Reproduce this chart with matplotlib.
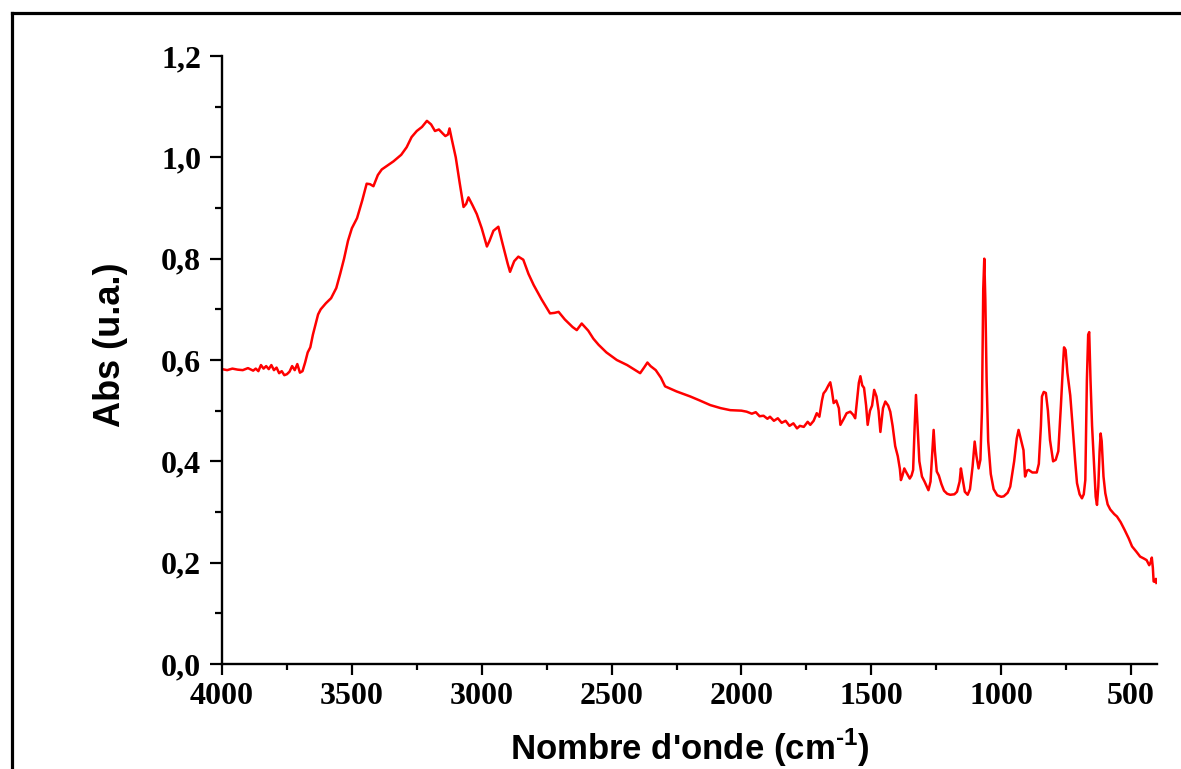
import matplotlib
matplotlib.use("Agg")
import matplotlib.pyplot as plt
from matplotlib.lines import Line2D

# FTIR spectrum: wavenumber (cm-1) and absorbance (a.u.)
wavenumber = [
    4000, 3980, 3960, 3940, 3920, 3900, 3880, 3870, 3860, 3850, 3840, 3830, 3820,
    3810, 3800, 3790, 3780, 3770, 3760, 3750, 3740, 3730, 3720, 3710, 3700, 3690,
    3680, 3670, 3660, 3650, 3640, 3630, 3620, 3600, 3580, 3560, 3545, 3530, 3515,
    3500, 3480, 3460, 3443, 3430, 3417, 3400, 3385, 3360, 3340, 3310, 3289, 3270,
    3250, 3230, 3211, 3195, 3180, 3165, 3150, 3140, 3130, 3124, 3115, 3100, 3085,
    3070, 3060, 3051, 3035, 3019, 3000, 2980, 2970, 2955, 2936, 2920, 2900, 2891,
    2875, 2859, 2840, 2820, 2800, 2770, 2737, 2720, 2704, 2680, 2650, 2634, 2615,
    2590, 2570, 2550, 2520, 2480, 2440, 2400, 2390, 2375, 2362, 2350, 2330, 2310,
    2294, 2250, 2197, 2160, 2120, 2080, 2043, 2000, 1980, 1960, 1945, 1930, 1915,
    1900, 1890, 1875, 1860, 1845, 1830, 1815, 1800, 1786, 1775, 1760, 1745, 1735,
    1722, 1710, 1700, 1690, 1684, 1675, 1665, 1658, 1652, 1645, 1635, 1625, 1619,
    1605, 1595, 1581, 1570, 1562, 1555, 1548, 1542, 1535, 1528, 1520, 1514, 1505,
    1497, 1489, 1480, 1472, 1465, 1455, 1446, 1435, 1427, 1418, 1408, 1398, 1390,
    1386, 1380, 1373, 1365, 1352, 1345, 1339, 1333, 1328, 1323, 1315, 1305, 1295,
    1280, 1272, 1265, 1260, 1255, 1248, 1240, 1230, 1220, 1208, 1196, 1180, 1170,
    1160, 1155, 1150, 1140, 1129, 1120, 1110, 1102, 1095, 1087, 1080, 1074, 1069,
    1065, 1061, 1056, 1050, 1040, 1029, 1015, 1000, 990, 975, 965, 950, 940, 933,
    925, 914, 908, 900, 894, 880, 863, 855, 847, 843, 836, 828, 820, 812, 800, 790,
    780, 770, 762, 758, 752, 745, 734, 725, 715, 708, 698, 689, 682, 676, 670, 665,
    661, 656, 650, 643, 636, 631, 626, 621, 617, 613, 606, 599, 590, 580, 565, 554,
    540, 525, 509, 496, 480, 465, 450, 440, 430, 425, 420, 416, 413, 408, 404, 402,
]
absorbance = [
    0.582, 0.580, 0.583, 0.581, 0.580, 0.584, 0.579, 0.583, 0.578, 0.590, 0.583, 0.588, 0.582,
    0.590, 0.580, 0.585, 0.574, 0.578, 0.570, 0.572, 0.577, 0.588, 0.580, 0.592, 0.575, 0.578,
    0.595, 0.615, 0.625, 0.650, 0.670, 0.690, 0.700, 0.712, 0.722, 0.742, 0.770, 0.800, 0.835,
    0.860, 0.880, 0.915, 0.948, 0.947, 0.943, 0.965, 0.976, 0.985, 0.992, 1.005, 1.020, 1.040,
    1.052, 1.060, 1.072, 1.065, 1.052, 1.055, 1.047, 1.042, 1.045, 1.057, 1.035, 1.000, 0.950,
    0.902, 0.908, 0.921, 0.905, 0.888, 0.860, 0.824, 0.835, 0.855, 0.863, 0.830, 0.790, 0.774,
    0.795, 0.804, 0.798, 0.770, 0.748, 0.720, 0.692, 0.693, 0.695, 0.680, 0.665, 0.659, 0.672,
    0.658, 0.642, 0.630, 0.615, 0.600, 0.590, 0.577, 0.574, 0.585, 0.595, 0.588, 0.580, 0.565,
    0.548, 0.538, 0.528, 0.520, 0.511, 0.505, 0.501, 0.500, 0.498, 0.494, 0.497, 0.489, 0.490,
    0.484, 0.488, 0.480, 0.485, 0.476, 0.480, 0.470, 0.475, 0.465, 0.470, 0.468, 0.478, 0.472,
    0.480, 0.495, 0.488, 0.520, 0.534, 0.540, 0.550, 0.556, 0.540, 0.515, 0.520, 0.505, 0.472,
    0.485, 0.495, 0.498, 0.492, 0.485, 0.520, 0.555, 0.568, 0.550, 0.545, 0.510, 0.472, 0.500,
    0.510, 0.541, 0.528, 0.500, 0.458, 0.505, 0.518, 0.510, 0.498, 0.470, 0.430, 0.410, 0.385,
    0.363, 0.372, 0.386, 0.378, 0.366, 0.372, 0.383, 0.470, 0.531, 0.480, 0.400, 0.370, 0.360,
    0.343, 0.360, 0.420, 0.462, 0.420, 0.380, 0.372, 0.355, 0.342, 0.336, 0.334, 0.335, 0.340,
    0.360, 0.386, 0.370, 0.340, 0.334, 0.345, 0.390, 0.439, 0.410, 0.386, 0.403, 0.500, 0.740,
    0.800, 0.720, 0.560, 0.440, 0.375, 0.345, 0.333, 0.330, 0.331, 0.338, 0.350, 0.400, 0.445, 0.462,
    0.445, 0.422, 0.370, 0.382, 0.383, 0.378, 0.378, 0.395, 0.470, 0.528, 0.537, 0.535, 0.500, 0.442, 0.400, 0.403,
    0.420, 0.510, 0.590, 0.625, 0.620, 0.575, 0.530, 0.470, 0.400, 0.357, 0.335, 0.327, 0.335, 0.363, 0.560, 0.650,
    0.655, 0.560, 0.470, 0.400, 0.330, 0.314, 0.350, 0.420, 0.455, 0.440, 0.370, 0.337, 0.315, 0.305, 0.296, 0.291,
    0.280, 0.265, 0.248, 0.232, 0.222, 0.212, 0.208, 0.205, 0.195, 0.200, 0.210, 0.190, 0.163, 0.162, 0.168, 0.160,
]

x_ticks = [4000, 3500, 3000, 2500, 2000, 1500, 1000, 500]
x_tick_labels = ["4000", "3500", "3000", "2500", "2000", "1500", "1000", "500"]
y_ticks = [0.0, 0.2, 0.4, 0.6, 0.8, 1.0, 1.2]
y_tick_labels = ["0,0", "0,2", "0,4", "0,6", "0,8", "1,0", "1,2"]

plt.rcParams["mathtext.fontset"] = "custom"
plt.rcParams["mathtext.rm"] = "Liberation Sans:bold"
plt.rcParams["mathtext.bf"] = "Liberation Sans:bold"

fig = plt.figure(figsize=(11.81, 7.69), dpi=100)
ax = fig.add_axes([222 / 1181, 1 - 664 / 769, (1157 - 222) / 1181, (664 - 56) / 769])

ax.plot(wavenumber, absorbance, color="#ff0000", lw=1.8)

ax.set_xlim(4000, 400)
ax.set_ylim(0, 1.2)

ax.set_xticks(x_ticks)
ax.set_xticklabels(x_tick_labels)
ax.set_yticks(y_ticks)
ax.set_yticklabels(y_tick_labels)
ax.set_xticks(list(range(3750, 399, -500)), minor=True)
ax.set_yticks([0.1, 0.3, 0.5, 0.7, 0.9, 1.1], minor=True)

for lab in ax.get_xticklabels() + ax.get_yticklabels():
    lab.set_fontfamily("Liberation Serif")
    lab.set_fontweight("bold")
    lab.set_fontsize(23)

ax.tick_params(axis="x", which="major", direction="out", length=8, width=1.6, pad=5)
ax.tick_params(axis="x", which="minor", direction="out", length=4.5, width=1.6)
ax.tick_params(axis="y", which="major", direction="out", length=9, width=1.6, pad=6)
ax.tick_params(axis="y", which="minor", direction="out", length=5, width=1.6)

for side in ("top", "right"):
    ax.spines[side].set_visible(False)
for side in ("left", "bottom"):
    ax.spines[side].set_linewidth(1.7)

ax.set_xlabel(r"Nombre d'onde (cm$^{\text{-1}}$)", fontfamily="Liberation Sans",
              fontweight="bold", fontsize=25)
ax.xaxis.set_label_coords(0.5, (664 - 760) / 608)
ax.xaxis.label.set_verticalalignment("baseline")

ax.set_ylabel("Abs (u.a.)", fontfamily="Liberation Sans", fontweight="bold", fontsize=26)
ax.yaxis.set_label_coords((128 - 222) / 935, (664 - 345) / 608)

# frame around the figure
fig.add_artist(Line2D([12 / 1181, 12 / 1181], [0, 1 - 12.5 / 769], transform=fig.transFigure,
                      color="black", lw=2.3, solid_capstyle="projecting"))
fig.add_artist(Line2D([12 / 1181, 1], [1 - 12.5 / 769, 1 - 12.5 / 769], transform=fig.transFigure,
                      color="black", lw=2.3, solid_capstyle="projecting"))

fig.savefig("out.png", dpi=100)
